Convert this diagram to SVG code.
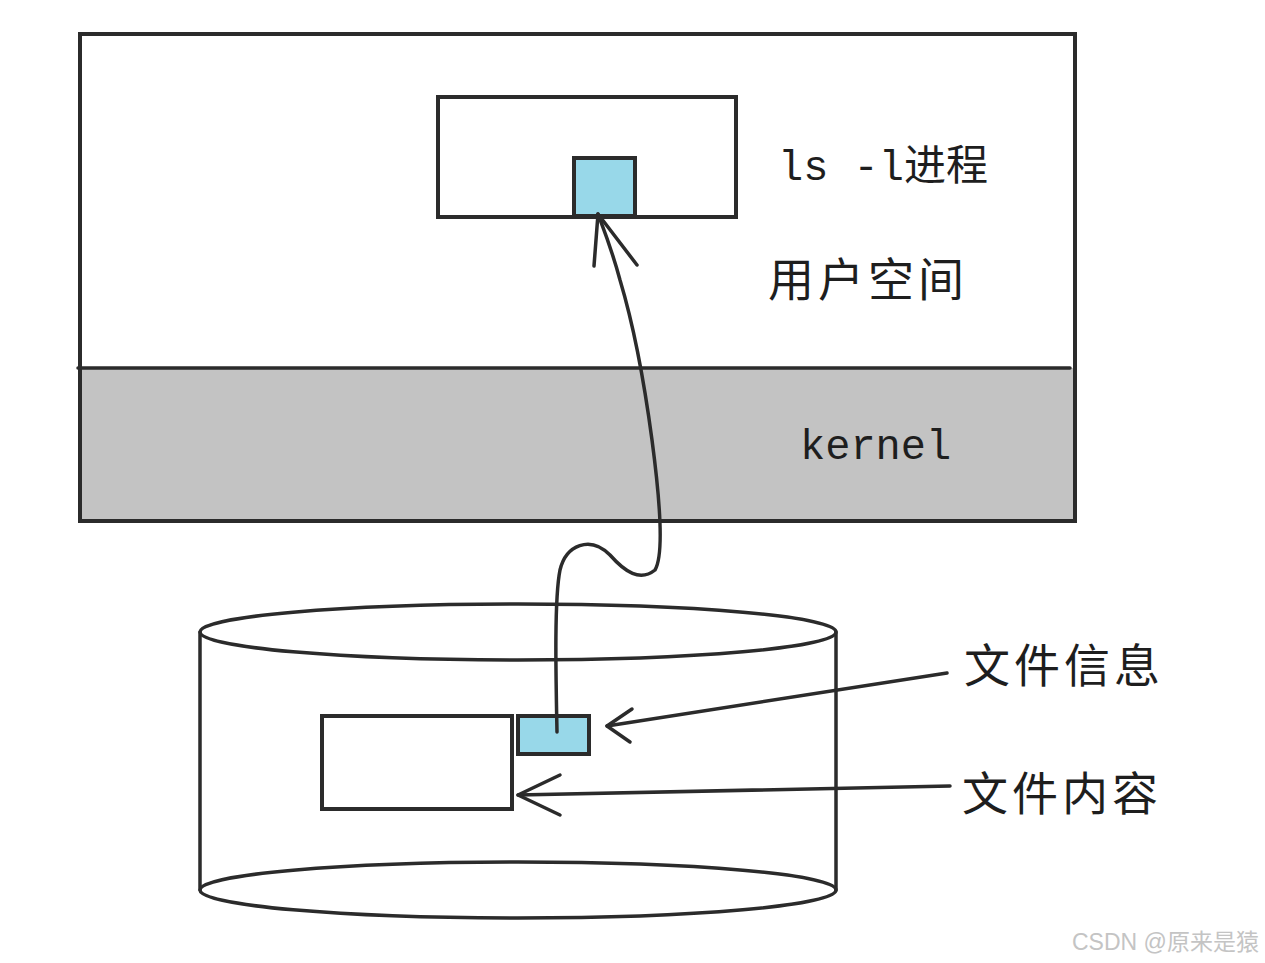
<svg xmlns="http://www.w3.org/2000/svg" width="1265" height="963" viewBox="0 0 1265 963">
<style>
.ln{fill:none;stroke:#2b2b2b;stroke-width:3.5;stroke-linecap:round;stroke-linejoin:round}
.bx{stroke:#2b2b2b;stroke-width:4}
.cj{font-family:"Noto Sans CJK SC",sans-serif;font-size:46px;fill:#1e1e1e}
.mono{font-family:"Liberation Mono","Noto Sans CJK SC",monospace;font-size:42px;fill:#1e1e1e}
</style>
<rect width="1265" height="963" fill="#ffffff"/>
<g id="outer">
<rect x="80" y="34" width="995" height="487" fill="#ffffff" class="bx"/>
<rect x="80" y="368" width="995" height="153" fill="#c3c3c3"/>
<line x1="78" y1="368" x2="1070" y2="368" class="ln" stroke-width="4.5"/>
<rect x="80" y="34" width="995" height="487" fill="none" class="bx"/>
</g>
<g id="process">
<rect x="438" y="97" width="298" height="120" fill="#ffffff" class="bx"/>
</g>
<g id="proc-info">
<rect x="574" y="158" width="61" height="58" fill="#98d8e9" class="bx"/>
</g>
<g id="disk">
<path d="M200,632 L200,890 M836,632 L836,890" class="ln"/>
<ellipse cx="518" cy="890" rx="318" ry="28" fill="#ffffff" class="ln"/>
<ellipse cx="518" cy="632" rx="318" ry="28" fill="#ffffff" class="ln"/>
</g>
<g id="file-content">
<rect x="322" y="716" width="190" height="93" fill="#ffffff" class="bx"/>
</g>
<g id="file-info">
<rect x="518" y="716" width="71" height="38" fill="#98d8e9" class="bx"/>
</g>
<g id="connectors">
<path d="M557,732 C556,680 554,600 560,570 C566,545 590,535 610,555 C625,572 640,582 655,570 C664,555 660,500 652,440 C644,380 632,320 620,280 C612,250 604,230 598,214" class="ln"/>
<path d="M594,266 L598,214 L637,265" class="ln"/>
<path d="M947,673 L607,726" class="ln"/>
<path d="M632,709 L607,726 L630,742" class="ln"/>
<path d="M950,786 L518,795" class="ln"/>
<path d="M560,775 L518,795 L560,815" class="ln"/>
</g>
<g id="labels">
<text x="778" y="180" class="mono" font-size="43">ls -l进程</text>
<text x="768" y="296" class="cj" letter-spacing="4">用户空间</text>
<text x="800" y="459" class="mono" font-size="39">kernel</text>
<text x="964" y="682" class="cj" letter-spacing="4">文件信息</text>
<text x="962" y="810" class="cj" letter-spacing="4">文件内容</text>
<text x="1072" y="950" font-family="Liberation Sans,Noto Sans CJK SC,sans-serif" font-size="23" fill="#c4c4c4">CSDN @原来是猿</text>
</g>
</svg>
